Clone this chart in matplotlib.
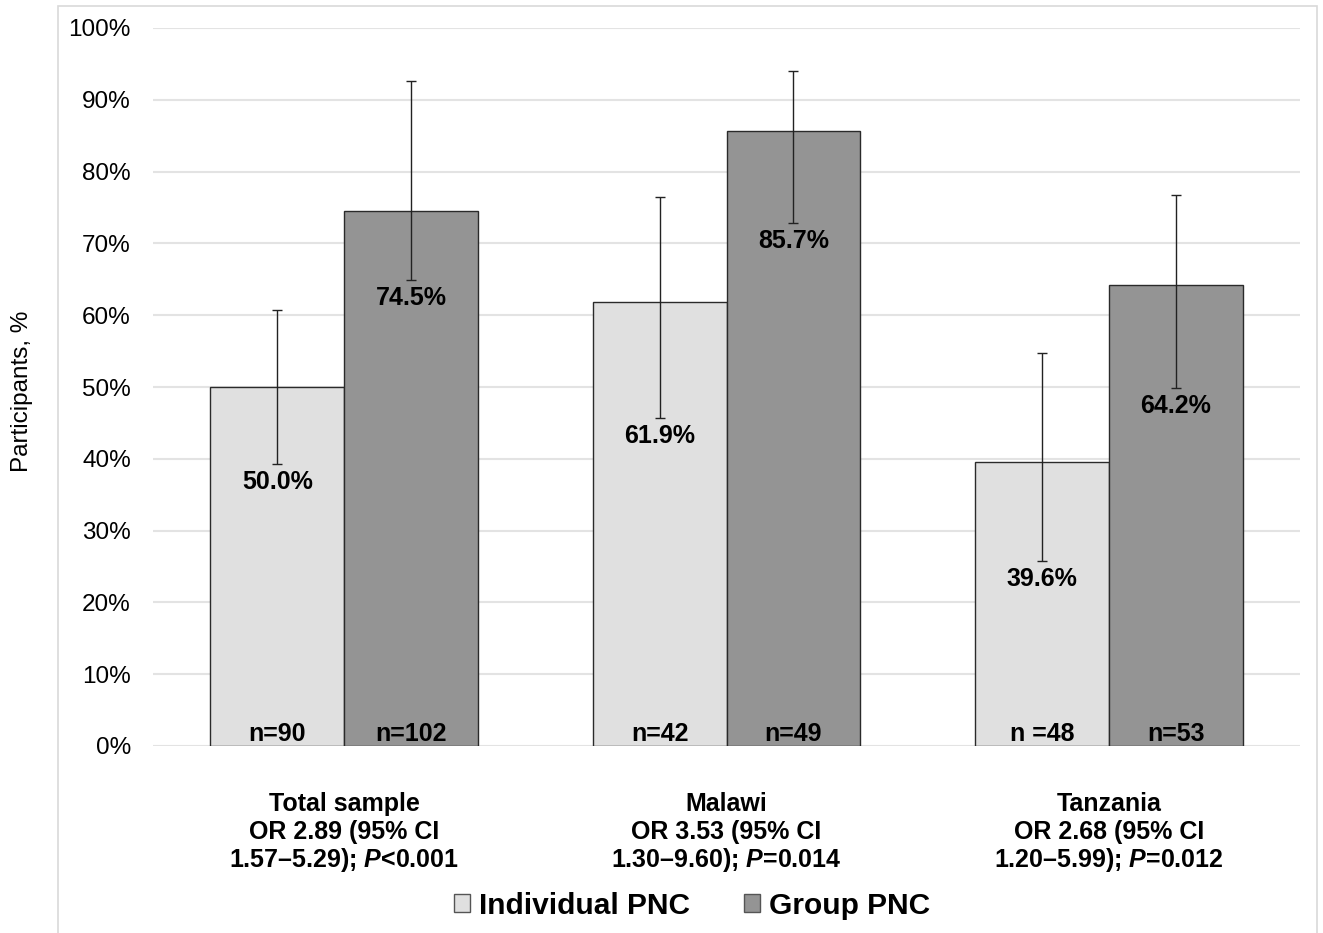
import matplotlib
matplotlib.use("Agg")
import matplotlib.pyplot as plt
from matplotlib.patches import Rectangle, Patch
import numpy as np

plt.rcParams['font.family'] = ['Liberation Sans', 'DejaVu Sans']
plt.rcParams['mathtext.fontset'] = 'custom'
plt.rcParams['mathtext.rm'] = 'Liberation Sans:bold'
plt.rcParams['mathtext.bf'] = 'Liberation Sans:bold'
plt.rcParams['mathtext.it'] = 'Liberation Sans:bold:italic'

# ---- data ----
categories = ["Total sample", "Malawi", "Tanzania"]
cat_lines2 = ["OR 2.89 (95% CI", "OR 3.53 (95% CI", "OR 2.68 (95% CI"]
cat_lines3 = [r"1.57–5.29); $\mathit{P}$<0.001",
              r"1.30–9.60); $\mathit{P}$=0.014",
              r"1.20–5.99); $\mathit{P}$=0.012"]
series_names = ["Individual PNC", "Group PNC"]
individual = [50.0, 61.9, 39.6]
group = [74.5, 85.7, 64.2]
individual_lo = [39.3, 45.7, 25.8]
individual_hi = [60.7, 76.5, 54.7]
group_lo = [64.9, 72.8, 49.9]
group_hi = [92.6, 94.0, 76.8]
individual_n = ["n=90", "n=42", "n =48"]
group_n = ["n=102", "n=49", "n=53"]
yticks = [0, 10, 20, 30, 40, 50, 60, 70, 80, 90, 100]

# ---- figure ----
W, H = 1323, 933
fig = plt.figure(figsize=(W / 100, H / 100), dpi=100)
ax = fig.add_axes([153 / W, 1 - 746 / H, (1300 - 153) / W, (746 - 28) / H])

# outer light border (chart area)
fig.add_artist(Rectangle((58 / W, -0.1), (1317 - 58) / W, 1.1 - 6 / H,
                         transform=fig.transFigure, fill=False,
                         edgecolor='#d9d9d9', linewidth=1.2, clip_on=False))

x = np.arange(len(categories))
bw = 0.35
c_ind = '#e0e0e0'
c_grp = '#949494'

ax.bar(x - bw / 2, individual, bw, color=c_ind, edgecolor='#2a2a2a', linewidth=1.0, zorder=3)
ax.bar(x + bw / 2, group, bw, color=c_grp, edgecolor='#2a2a2a', linewidth=1.0, zorder=3)

ind_err = [np.array(individual) - np.array(individual_lo), np.array(individual_hi) - np.array(individual)]
grp_err = [np.array(group) - np.array(group_lo), np.array(group_hi) - np.array(group)]
ax.errorbar(x - bw / 2, individual, yerr=ind_err, fmt='none', ecolor='#222222',
            elinewidth=1.0, capsize=3.5, capthick=1.0, zorder=4)
ax.errorbar(x + bw / 2, group, yerr=grp_err, fmt='none', ecolor='#222222',
            elinewidth=1.0, capsize=3.5, capthick=1.0, zorder=4)

# value labels (just below the lower CI bound)
for xs, vals, los in [(x - bw / 2, individual, individual_lo), (x + bw / 2, group, group_lo)]:
    for xi, v, lo in zip(xs, vals, los):
        ax.annotate(f"{v:.1f}%", xy=(xi, lo), xytext=(0, -13), textcoords='offset points',
                    ha='center', va='center', fontsize=18, fontweight='bold', zorder=5)

# n labels
for xs, labs in [(x - bw / 2, individual_n), (x + bw / 2, group_n)]:
    for xi, lab in zip(xs, labs):
        ax.annotate(lab, xy=(xi, 0), xytext=(0, 8.5), textcoords='offset points',
                    ha='center', va='center', fontsize=18, fontweight='bold', zorder=5)

# axes styling
ax.set_xlim(-0.5, len(categories) - 0.5)
ax.set_ylim(0, 100)
ax.set_yticks(yticks)
ax.set_yticklabels([f"{t}%" for t in yticks], fontsize=17.5)
ax.tick_params(axis='y', length=0, pad=16)
ax.set_xticks([])
for s in ax.spines.values():
    s.set_visible(False)
ax.grid(axis='y', color='#e3e3e3', linewidth=1.5, zorder=0)
ax.set_axisbelow(True)

# category labels
for xi, l1, l2, l3 in zip(x, categories, cat_lines2, cat_lines3):
    for txt, off in [(l1, -42), (l2, -62), (l3, -82)]:
        ax.annotate(txt, xy=(xi, 0), xycoords=('data', 'axes fraction'),
                    xytext=(0, off), textcoords='offset points',
                    ha='center', va='center', fontsize=18, fontweight='bold',
                    annotation_clip=False)

# y label
fig.text(22 / W, 1 - 391 / H, "Participants, %", rotation=90, ha='center', va='center', fontsize=17.5)

# legend
handles = [Patch(facecolor=c_ind, edgecolor='#555555', linewidth=1.0),
           Patch(facecolor=c_grp, edgecolor='#555555', linewidth=1.0)]
fig.legend(handles, series_names, loc='center', bbox_to_anchor=(692 / W, 1 - 906 / H),
           ncol=2, frameon=False, handlelength=0.55, handleheight=0.55,
           handletextpad=0.3, columnspacing=1.8, prop={'size': 21.5, 'weight': 'bold'})

fig.savefig("out.png", dpi=100)
